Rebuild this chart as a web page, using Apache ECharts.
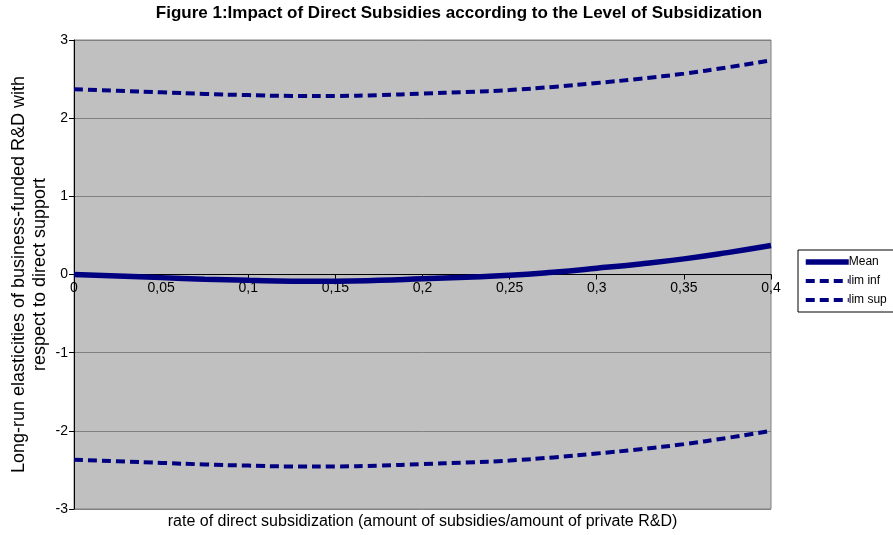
<!DOCTYPE html>
<html>
<head>
<meta charset="utf-8">
<script src="https://cdn.jsdelivr.net/npm/echarts@6/dist/echarts.min.js"></script>
<style>html,body{margin:0;padding:0;background:#fff}#c{width:893px;height:535px}</style>
</head>
<body>
<div id="c"></div>
<script>
var xValues = [0, 0.025, 0.05, 0.075, 0.1, 0.125, 0.15, 0.175, 0.2, 0.225, 0.25, 0.275, 0.3, 0.325, 0.35, 0.375, 0.4];
var meanValues = [0.0, -0.02, -0.04, -0.06, -0.075, -0.085, -0.085, -0.075, -0.055, -0.035, -0.01, 0.03, 0.08, 0.135, 0.2, 0.28, 0.37];
var limSupValues = [2.37, 2.35, 2.33, 2.31, 2.295, 2.285, 2.285, 2.295, 2.315, 2.335, 2.36, 2.40, 2.45, 2.505, 2.57, 2.65, 2.74];
var limInfValues = [-2.37, -2.39, -2.41, -2.43, -2.445, -2.455, -2.455, -2.445, -2.425, -2.405, -2.38, -2.34, -2.29, -2.235, -2.17, -2.09, -2.0];
var seriesNames = ['Mean', 'lim inf', 'lim sup'];
var titleText = 'Figure 1:Impact of Direct Subsidies according to the Level of Subsidization';
var xName = 'rate of direct subsidization (amount of subsidies/amount of private R&D)';
var yName = 'Long-run elasticities of business-funded R&D with\nrespect to direct support';

function pairs(ys) { return xValues.map(function (x, i) { return [x, ys[i]]; }); }
var FONT = 'Liberation Sans, Arial, sans-serif';
var navy = '#000080';

var chart = echarts.init(document.getElementById('c'), null, { renderer: 'canvas' });
chart.setOption({
  animation: false,
  textStyle: { fontFamily: FONT },
  graphic: [{
    type: 'text', x: 459, y: 5,
    style: { text: titleText, font: 'bold 17px ' + FONT, fill: '#000', textAlign: 'center' }
  }],
  legend: {
    orient: 'vertical', left: 798, top: 250,
    backgroundColor: '#fff', borderColor: '#000', borderWidth: 1,
    padding: [6, 30, 6, 5], itemGap: 7, itemWidth: 43, itemHeight: 14,
    itemStyle: { opacity: 0 },
    textStyle: { fontSize: 12, color: '#000', fontFamily: FONT, padding: [0, 0, 0, -5] },
    data: [
      { name: seriesNames[0], lineStyle: { width: 5.5 } },
      { name: seriesNames[1], lineStyle: { width: 4 } },
      { name: seriesNames[2], lineStyle: { width: 4 } }
    ]
  },
  grid: { left: 74, right: 122, top: 40, bottom: 26, outerBoundsMode: 'none', containLabel: false, show: true, backgroundColor: '#C0C0C0', borderColor: '#808080', borderWidth: 1 },
  xAxis: [{
    type: 'value', min: 0, max: 0.4, interval: 0.05, position: 'bottom', offset: -234.5,
    axisLine: { onZero: false, lineStyle: { color: '#000', width: 1 } },
    axisTick: { show: true, length: 5, lineStyle: { color: '#000' } },
    axisLabel: { color: '#000', fontSize: 14, margin: 7, showMinLabel: true, showMaxLabel: true,
      formatter: function (v) { return (Math.round(v * 100) / 100).toString().replace('.', ','); } },
    splitLine: { show: false }
  }, {
    type: 'value', min: 0, max: 0.4, position: 'bottom', offset: 0,
    name: xName, nameLocation: 'middle', nameGap: 5, nameMoveOverlap: false,
    nameTextStyle: { fontSize: 16, color: '#000', fontFamily: FONT },
    axisLine: { show: false, onZero: false }, axisTick: { show: false }, axisLabel: { show: false }, splitLine: { show: false }
  }],
  yAxis: {
    type: 'value', min: -3, max: 3, interval: 1,
    name: yName, nameLocation: 'middle', nameGap: 23, nameMoveOverlap: false,
    nameTextStyle: { fontSize: 18, color: '#000', fontFamily: FONT, lineHeight: 21 },
    axisLine: { show: true, onZero: false, lineStyle: { color: '#000' } },
    axisTick: { show: true, length: 5, lineStyle: { color: '#000' } },
    axisLabel: { color: '#000', fontSize: 14, margin: 6 },
    splitLine: { show: true, lineStyle: { color: '#808080', width: 1 } }
  },
  series: [{
    name: seriesNames[0], type: 'line', smooth: true, symbol: 'none', data: pairs(meanValues),
    lineStyle: { color: navy, width: 5.5 }, itemStyle: { color: navy }, z: 3
  }, {
    name: seriesNames[1], type: 'line', smooth: true, symbol: 'none', data: pairs(limInfValues),
    lineStyle: { color: navy, width: 4, type: [9, 5] }, itemStyle: { color: navy }
  }, {
    name: seriesNames[2], type: 'line', smooth: true, symbol: 'none', data: pairs(limSupValues),
    lineStyle: { color: navy, width: 4, type: [9, 5] }, itemStyle: { color: navy }
  }]
});
</script>
</body>
</html>
